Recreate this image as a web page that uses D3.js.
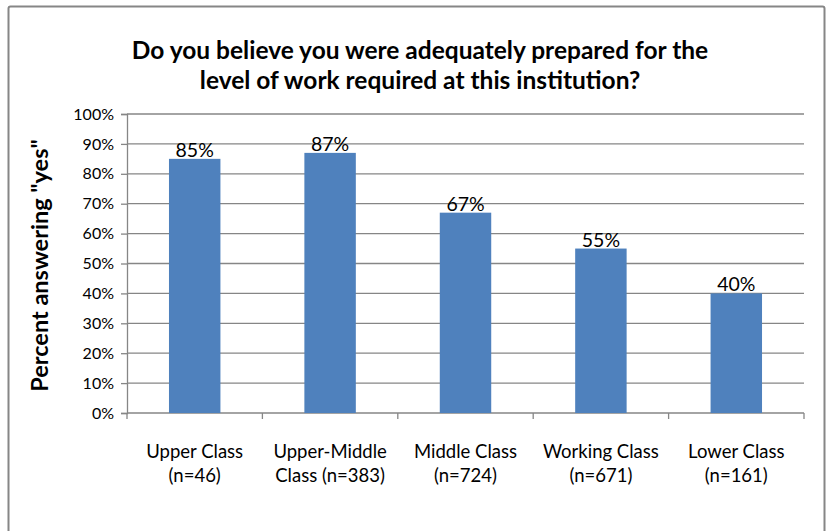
<!DOCTYPE html>
<html>
<head>
<meta charset="utf-8">
<script src="https://cdn.jsdelivr.net/npm/d3@7"></script>
<style>
  body { margin: 0; background: #fff; }
  text { font-family: Lato, "Open Sans", sans-serif; fill: #000; }
</style>
</head>
<body>
<svg id="chart" width="830" height="531"></svg>
<script>
"use strict";

var categories = ["Upper Class|(n=46)", "Upper-Middle|Class (n=383)", "Middle Class|(n=724)", "Working Class|(n=671)", "Lower Class|(n=161)"];
var values = [85, 87, 67, 55, 40];
var yTicks = [0, 10, 20, 30, 40, 50, 60, 70, 80, 90, 100];
var titleLines = ["Do you believe you were adequately prepared for the", "level of work required at this institution?"];
var yLabel = "Percent answering \"yes\"";

var svg = d3.select("#chart"),
    margin = {top: 114, left: 127, right: 26, bottom: 118},
    width = 830 - margin.left - margin.right,
    height = 531 - margin.top - margin.bottom,
    gray = "#868686";

// outer frame
svg.append("rect")
    .attr("x", 8.5).attr("y", 6.5)
    .attr("width", 816).attr("height", 540)
    .attr("rx", 2)
    .attr("fill", "none")
    .attr("stroke", gray)
    .attr("stroke-width", 2);

svg.selectAll(".title")
    .data(titleLines)
  .enter().append("text")
    .attr("class", "title")
    .attr("x", 420)
    .attr("y", function(d, i) { return 59 + i * 30; })
    .attr("text-anchor", "middle")
    .style("font-size", "24.5px")
    .style("font-weight", "bold")
    .text(function(d) { return d; });

var g = svg.append("g").attr("transform", "translate(" + margin.left + "," + margin.top + ")");

var x = d3.scaleBand().domain(categories).range([0, width]).paddingInner(0.62).paddingOuter(0.31),
    xb = d3.scaleBand().domain(categories).range([0, width]),
    y = d3.scaleLinear().domain([0, 100]).range([height, 0]);

// gridlines
g.selectAll(".grid")
    .data(yTicks.slice(1))
  .enter().append("line")
    .attr("x1", 0).attr("x2", width)
    .attr("y1", function(d) { return y(d); })
    .attr("y2", function(d) { return y(d); })
    .attr("stroke", gray)
    .attr("stroke-width", 1.3);

var yAxis = g.append("g")
    .call(d3.axisLeft(y).tickValues(yTicks).tickSize(6).tickPadding(7).tickFormat(function(d) { return d + "%"; }));
yAxis.select(".domain").attr("stroke", gray).attr("stroke-width", 1.3);
yAxis.selectAll(".tick line").attr("stroke", gray).attr("stroke-width", 1.3);
yAxis.selectAll("text").style("font-size", "16px").style("font-family", "Lato, sans-serif").attr("fill", "#000");

// x axis line and ticks at category boundaries
g.append("line")
    .attr("x1", 0).attr("x2", width)
    .attr("y1", height).attr("y2", height)
    .attr("stroke", gray).attr("stroke-width", 1.3);

g.selectAll(".xtick")
    .data(categories.concat(["end"]))
  .enter().append("line")
    .attr("x1", function(d, i) { return i < categories.length ? xb(d) : width; })
    .attr("x2", function(d, i) { return i < categories.length ? xb(d) : width; })
    .attr("y1", height).attr("y2", height + 6)
    .attr("stroke", gray).attr("stroke-width", 1.3);

g.selectAll(".bar")
    .data(values)
  .enter().append("rect")
    .attr("x", function(d, i) { return x(categories[i]); })
    .attr("width", x.bandwidth())
    .attr("y", function(d) { return y(d); })
    .attr("height", function(d) { return height - y(d); })
    .attr("fill", "#4F81BD");

g.selectAll(".val")
    .data(values)
  .enter().append("text")
    .attr("x", function(d, i) { return x(categories[i]) + x.bandwidth() / 2; })
    .attr("y", function(d) { return y(d) - 2; })
    .attr("text-anchor", "middle")
    .style("font-size", "19.5px")
    .text(function(d) { return d + "%"; });

var catLabels = g.selectAll(".cat")
    .data(categories)
  .enter().append("text")
    .attr("text-anchor", "middle")
    .style("font-size", "18.5px");

catLabels.selectAll("tspan")
    .data(function(d, i) { return d.split("|").map(function(s) { return {s: s, c: categories[i]}; }); })
  .enter().append("tspan")
    .attr("x", function(d) { return xb(d.c) + xb.bandwidth() / 2; })
    .attr("y", function(d, j) { return height + 45 + j * 24; })
    .text(function(d) { return d.s; });

svg.append("text")
    .attr("transform", "translate(48," + (margin.top + height / 2 + 2) + ") rotate(-90)")
    .attr("text-anchor", "middle")
    .style("font-size", "23.5px")
    .style("font-weight", "bold")
    .text(yLabel);
</script>
</body>
</html>
